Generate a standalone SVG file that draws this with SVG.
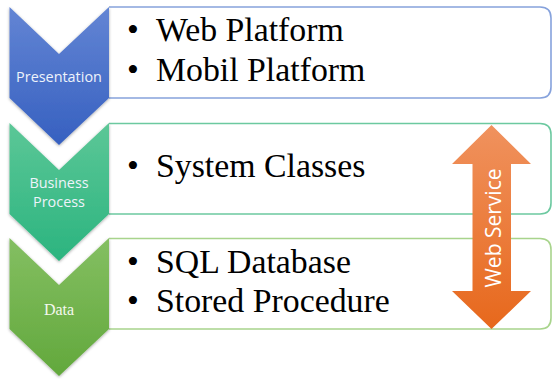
<svg xmlns="http://www.w3.org/2000/svg" width="552" height="379" viewBox="0 0 552 379">
  <defs>
    <linearGradient id="gBlue" x1="0" y1="0" x2="0" y2="1">
      <stop offset="0" stop-color="#6385d4"/>
      <stop offset="1" stop-color="#3660c0"/>
    </linearGradient>
    <linearGradient id="gTeal" x1="0" y1="0" x2="0" y2="1">
      <stop offset="0" stop-color="#5cc797"/>
      <stop offset="1" stop-color="#2bb47f"/>
    </linearGradient>
    <linearGradient id="gGreen" x1="0" y1="0" x2="0" y2="1">
      <stop offset="0" stop-color="#84bf62"/>
      <stop offset="1" stop-color="#62a83c"/>
    </linearGradient>
    <linearGradient id="gOrange" x1="0" y1="0" x2="0" y2="1">
      <stop offset="0" stop-color="#f0925e"/>
      <stop offset="1" stop-color="#e7681c"/>
    </linearGradient>
    <filter id="shadow" x="-20%" y="-20%" width="140%" height="140%">
      <feDropShadow dx="0" dy="1" stdDeviation="1.6" flood-color="#000" flood-opacity="0.35"/>
    </filter>
    <style>
      .panel { fill: #ffffff; stroke-width: 1.6; }
      .item { font-family: "Liberation Serif", "Times New Roman", serif; font-size: 33.8px; fill: #000; }
      .bullet { font-family: "Liberation Serif", "Times New Roman", serif; font-size: 33.8px; fill: #000; text-anchor: middle; }
      .tag { font-family: "Open Sans", "Liberation Sans", sans-serif; font-size: 14.4px; fill: #eef3fb; text-anchor: middle; }
      .tag-serif { font-family: "Liberation Serif", "Times New Roman", serif; font-size: 16px; fill: #f4f8ee; text-anchor: middle; }
    </style>
  </defs>

  <!-- Layer 1: presentation -->
  <g id="layer-presentation">
    <path class="panel" stroke="#86a2dc" d="M109 7 H540 Q551 7 551 18 V87 Q551 98 540 98 H109"/>
    <path filter="url(#shadow)" fill="url(#gBlue)" d="M9.5 7 L59 54 L109 7 V98 L59 145 L9.5 98 Z"/>
    <text class="tag" x="59" y="82">Presentation</text>
    <text class="bullet" x="133" y="41">•</text>
    <text class="item" x="156" y="41">Web Platform</text>
    <text class="bullet" x="133" y="81">•</text>
    <text class="item" x="156" y="81">Mobil Platform</text>
  </g>

  <!-- Layer 2: business process -->
  <g id="layer-business">
    <path class="panel" stroke="#6cc9a0" d="M109 123.5 H540 Q551 123.5 551 134.5 V203 Q551 214 540 214 H109"/>
    <path filter="url(#shadow)" fill="url(#gTeal)" d="M9.5 123 L59 170 L109 123 V214 L59 261 L9.5 214 Z"/>
    <text class="tag" x="59" y="188">Business</text>
    <text class="tag" x="59" y="207">Process</text>
    <text class="bullet" x="133" y="177">•</text>
    <text class="item" x="156" y="177">System Classes</text>
  </g>

  <!-- Layer 3: data -->
  <g id="layer-data">
    <path class="panel" stroke="#a8d48c" d="M109 238.5 H540 Q551 238.5 551 249.5 V318 Q551 329 540 329 H109"/>
    <path filter="url(#shadow)" fill="url(#gGreen)" d="M9.5 238 L59 285 L109 238 V329 L59 376 L9.5 329 Z"/>
    <text class="tag-serif" x="59" y="315">Data</text>
    <text class="bullet" x="133" y="273">•</text>
    <text class="item" x="156" y="273">SQL Database</text>
    <text class="bullet" x="133" y="312">•</text>
    <text class="item" x="156" y="312">Stored Procedure</text>
  </g>

  <!-- Double-headed web service arrow spanning the lower layers -->
  <g id="web-service">
    <path fill="url(#gOrange)" d="M491.5 125 L531 164 H511 V291 H531 L491.5 329 L452 291 H472.5 V164 H452 Z"/>
    <text transform="translate(501 228) rotate(-90)" text-anchor="middle" font-family="'Open Sans', 'Liberation Sans', sans-serif" font-size="21" fill="#ffffff">Web Service</text>
  </g>
</svg>
